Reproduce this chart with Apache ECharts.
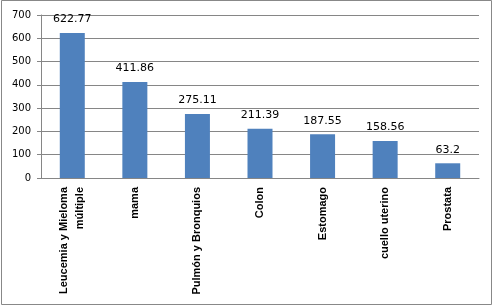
<!DOCTYPE html>
<html><head><meta charset="utf-8">
<script src="https://cdn.jsdelivr.net/npm/echarts@6/dist/echarts.min.js"></script>
<style>html,body{margin:0;padding:0;background:#fff}#c{width:495px;height:308px}</style>
</head><body><div id="c"></div>
<script>
const categories = ['Leucemia y Mieloma\nmúltiple', 'mama', 'Pulmón y Bronquios', 'Colon', 'Estomago', 'cuello uterino', 'Prostata'];
const values = [622.77, 411.86, 275.11, 211.39, 187.55, 158.56, 63.2];
const yTicks = [0, 100, 200, 300, 400, 500, 600, 700];

const chart = echarts.init(document.getElementById('c'));
chart.setOption({
  animation: false,
  backgroundColor: '#fff',
  graphic: [{type: 'rect', shape: {x: 1.5, y: 0.5, width: 490, height: 304}, style: {fill: 'none', stroke: '#888', lineWidth: 1}}],
  grid: {left: 41, right: 16, top: 15, bottom: 130},
  xAxis: {
    type: 'category', data: categories,
    axisLine: {lineStyle: {color: '#868686'}},
    axisTick: {lineStyle: {color: '#868686'}, length: 5},
    axisLabel: {rotate: 90, interval: 0, color: '#000', fontFamily: 'Liberation Sans', fontWeight: 'bold', fontSize: 11, margin: 9, lineHeight: 16, align: 'right'}
  },
  yAxis: {
    type: 'value', min: yTicks[0], max: yTicks[yTicks.length - 1], interval: 100,
    axisLine: {show: true, lineStyle: {color: '#868686'}},
    axisTick: {show: true, lineStyle: {color: '#868686'}, length: 4},
    splitLine: {lineStyle: {color: '#868686'}},
    axisLabel: {color: '#000', fontFamily: 'DejaVu Sans', fontSize: 10, margin: 10}
  },
  series: [{
    type: 'bar', data: values, barWidth: 25,
    itemStyle: {color: '#4f81bd'},
    label: {show: true, position: 'top', distance: 8, color: '#000', fontFamily: 'DejaVu Sans', fontSize: 11}
  }]
});
</script></body></html>
